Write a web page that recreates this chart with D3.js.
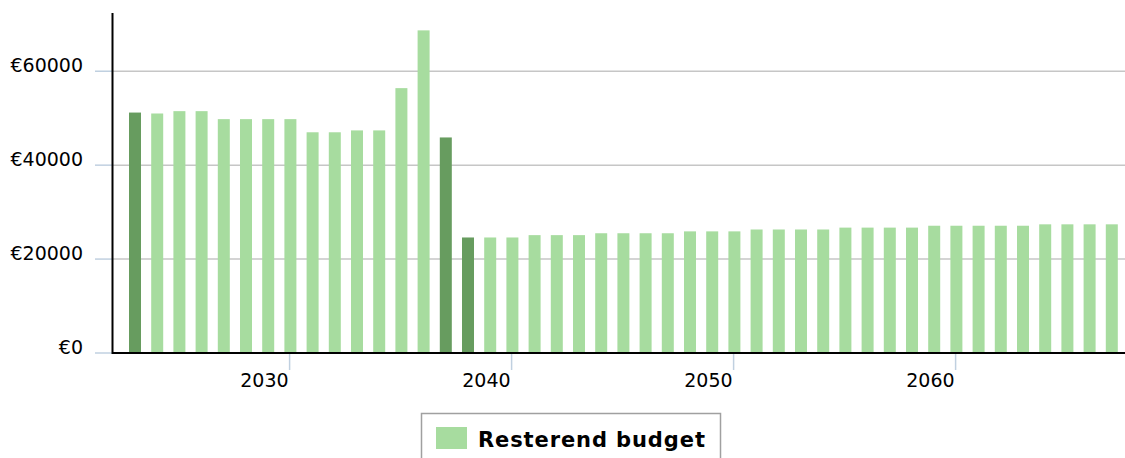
<!DOCTYPE html>
<html><head><meta charset="utf-8">
<script src="https://cdn.jsdelivr.net/npm/d3@7"></script>
<style>
html,body{margin:0;padding:0;background:#fff;}
svg{display:block;font-family:"DejaVu Sans",Verdana,sans-serif;}
</style></head>
<body>
<svg id="chart" width="1125" height="458"></svg>
<script>
const years = d3.range(2023, 2068);
const values = [
  51200, 51000, 51500, 51500, 49800, 49800, 49800, 49800, 47000, 47000,
  47400, 47400, 56400, 68700, 45900, 24600, 24600, 24600, 25100, 25100,
  25100, 25500, 25500, 25500, 25500, 25900, 25900, 25900, 26300, 26300,
  26300, 26300, 26700, 26700, 26700, 26700, 27100, 27100, 27100, 27100,
  27100, 27400, 27400, 27400, 27400
];
const highlighted = [2023, 2037, 2038];
const yTicks = [0, 20000, 40000, 60000];
const xTicks = [2030, 2040, 2050, 2060];
const seriesName = "Resterend budget";
const colorLight = "#a7dc9f";
const colorDark = "#679c5f";

const svg = d3.select("#chart");
const x = d3.scaleLinear().domain([2023, 2067]).range([134.2, 1111]);
const y = d3.scaleLinear().domain([0, 72400]).range([353, 13]);
const plotLeft = 113, plotRight = 1125;

// gridlines + y ticks
const grid = svg.append("g");
grid.selectAll("line.grid").data(yTicks).join("line")
  .attr("x1", plotLeft).attr("x2", plotRight)
  .attr("y1", d => y(d)).attr("y2", d => y(d))
  .attr("stroke", "#c6c6c6").attr("stroke-width", 1.5);
grid.selectAll("line.tk").data(yTicks).join("line")
  .attr("x1", 95).attr("x2", plotLeft)
  .attr("y1", d => y(d)).attr("y2", d => y(d))
  .attr("stroke", "#c0d0e0").attr("stroke-width", 1.5);
grid.selectAll("text").data(yTicks).join("text")
  .attr("x", 83).attr("y", d => y(d) + 0.5)
  .attr("text-anchor", "end")
  .attr("font-size", 19).attr("fill", "#000")
  .text(d => "€" + d);

// x ticks
const xg = svg.append("g");
xg.selectAll("line").data(xTicks).join("line")
  .attr("x1", d => x(d)).attr("x2", d => x(d))
  .attr("y1", 354).attr("y2", 370)
  .attr("stroke", "#c0d0e0").attr("stroke-width", 1.5);
xg.selectAll("text").data(xTicks).join("text")
  .attr("x", d => x(d) - 1).attr("y", 386.5)
  .attr("text-anchor", "end")
  .attr("font-size", 19).attr("fill", "#000")
  .text(d => d);

// bars
const bw = 12;
svg.append("g").selectAll("rect").data(years.map((yr, i) => ({yr, v: values[i]}))).join("rect")
  .attr("x", d => x(d.yr) - bw / 2 + 0.8)
  .attr("width", bw)
  .attr("y", d => y(d.v))
  .attr("height", d => y(0) - y(d.v))
  .attr("fill", d => highlighted.includes(d.yr) ? colorDark : colorLight);

// axes lines
svg.append("line").attr("x1", 112.5).attr("x2", 112.5).attr("y1", 13).attr("y2", 354)
  .attr("stroke", "#000").attr("stroke-width", 2);
svg.append("line").attr("x1", 112).attr("x2", plotRight).attr("y1", 353).attr("y2", 353)
  .attr("stroke", "#000").attr("stroke-width", 2);

// legend
const lg = svg.append("g");
lg.append("rect").attr("x", 421.5).attr("y", 413.5).attr("width", 299).attr("height", 70)
  .attr("fill", "#fff").attr("stroke", "#a0a0a0").attr("stroke-width", 1.5);
lg.append("rect").attr("x", 436).attr("y", 427).attr("width", 31).attr("height", 22)
  .attr("fill", colorLight);
lg.append("text").attr("x", 478).attr("y", 447)
  .attr("font-size", 21).attr("font-weight", "bold")
  .attr("letter-spacing", 0.9).attr("fill", "#000")
  .text(seriesName);
</script>
</body></html>
